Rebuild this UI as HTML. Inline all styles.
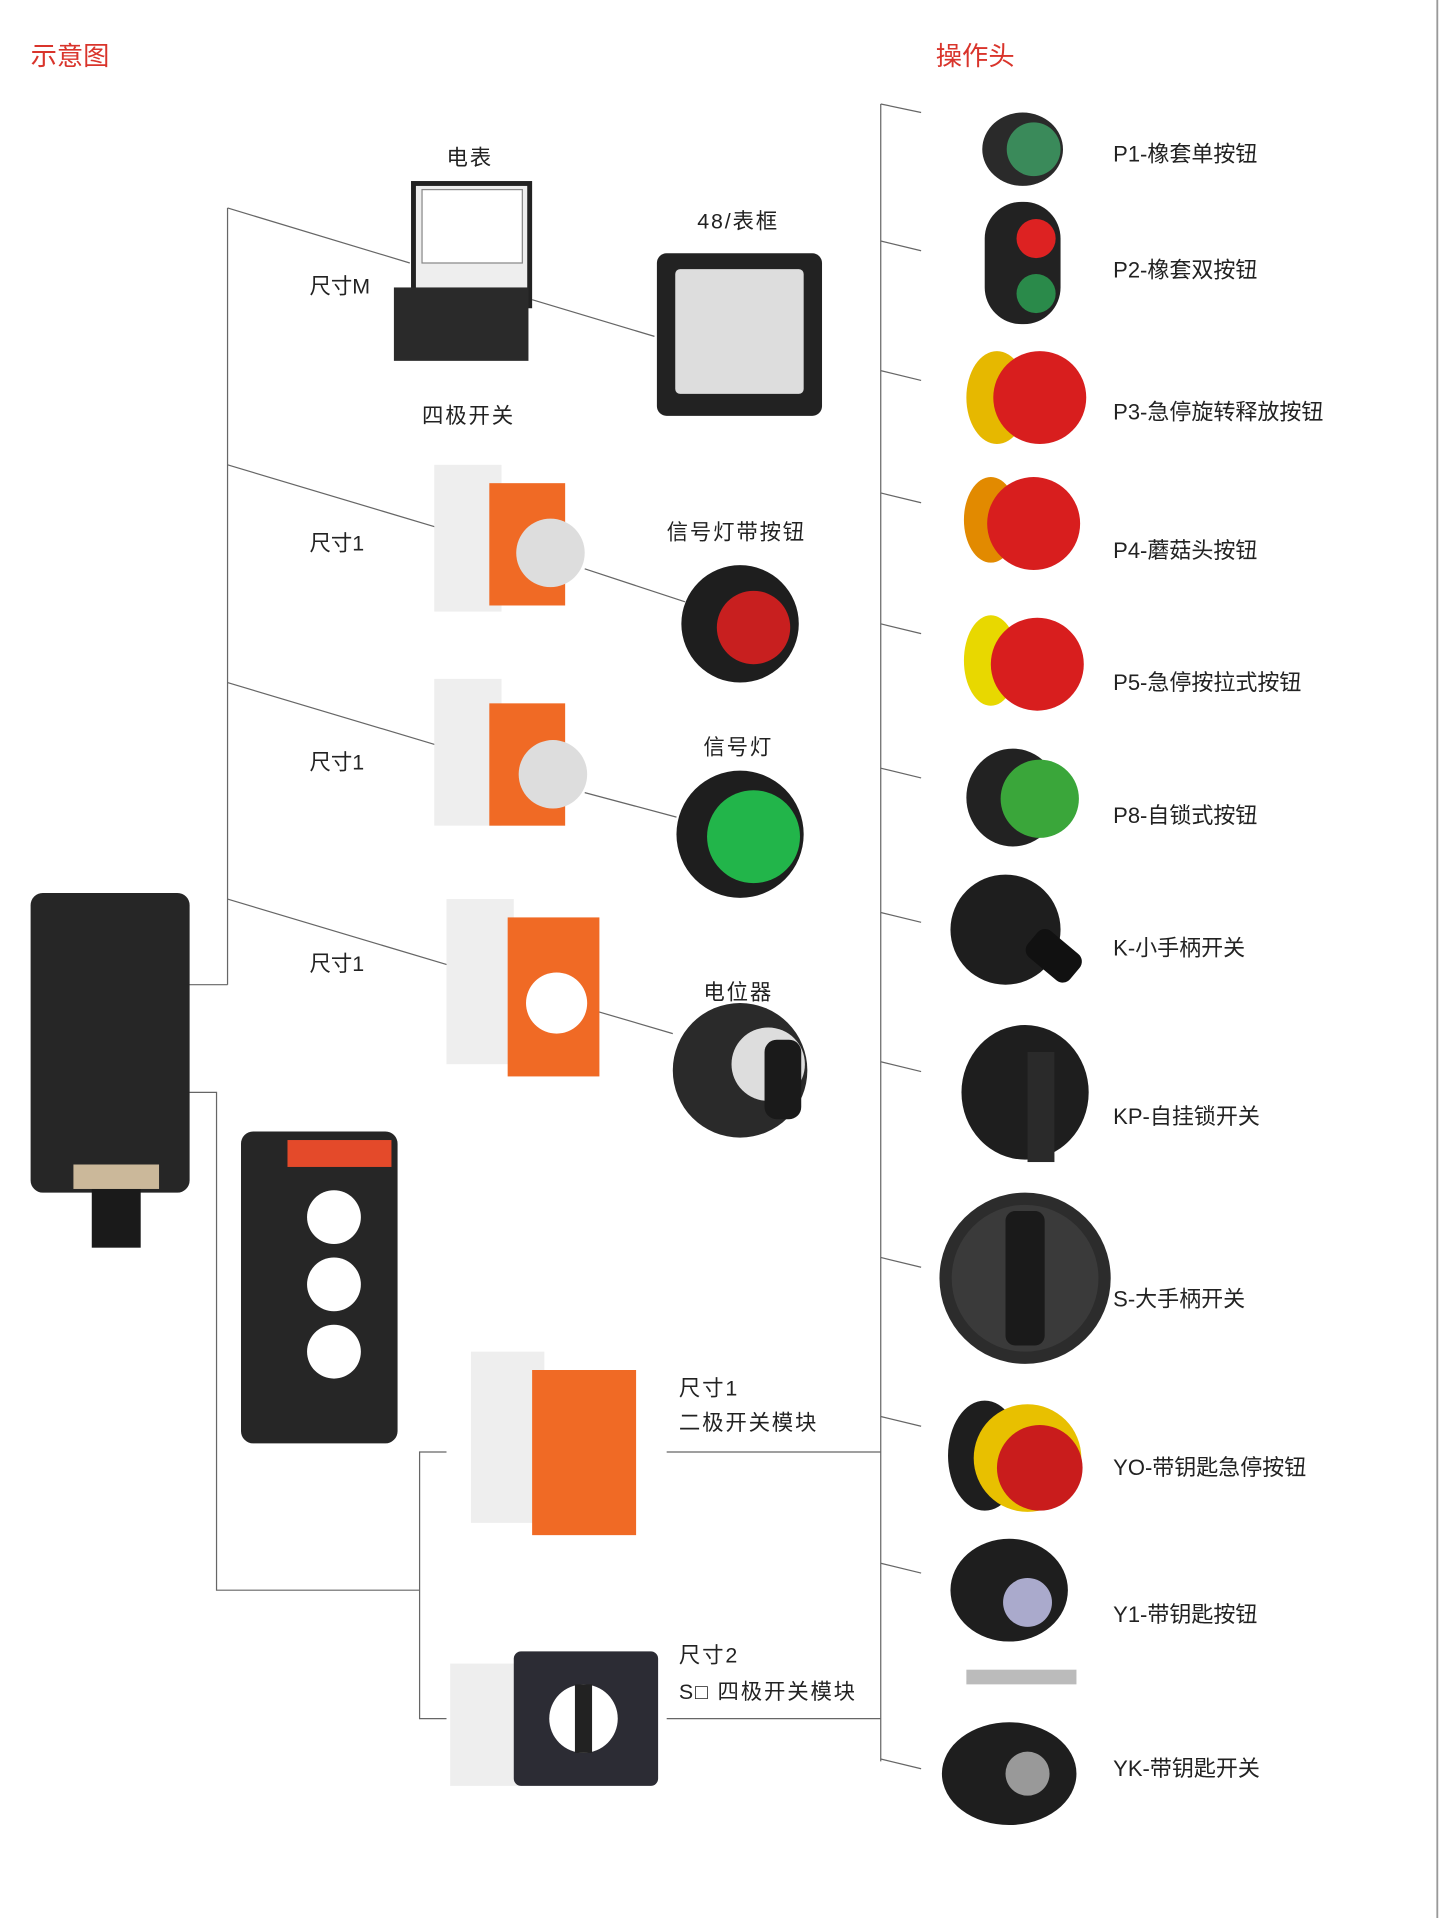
<!DOCTYPE html>
<html><head><meta charset="utf-8"><style>
html,body{margin:0;padding:0;background:#fff;}
svg{display:block}
text{font-family:"Liberation Sans","Noto Sans CJK SC",sans-serif;}
</style></head><body>
<svg width="1441" height="1918" viewBox="0 0 1178 1568" xmlns="http://www.w3.org/2000/svg">
<rect width="1178" height="1568" fill="#fff"/>
<line x1="1175" y1="0" x2="1175" y2="1568" stroke="#999" stroke-width="1.5"/>
<text x="25" y="53" font-size="21.5" fill="#d9342b">示意图</text>
<text x="765" y="53" font-size="21.5" fill="#d9342b">操作头</text>
<g stroke="#666" stroke-width="1" fill="none">
<line x1="720" y1="85" x2="720" y2="1440"/>
<line x1="720" y1="85" x2="753" y2="92"/>
<line x1="720" y1="197" x2="753" y2="205"/>
<line x1="720" y1="303" x2="753" y2="311"/>
<line x1="720" y1="403" x2="753" y2="411"/>
<line x1="720" y1="510" x2="753" y2="518"/>
<line x1="720" y1="628" x2="753" y2="636"/>
<line x1="720" y1="746" x2="753" y2="754"/>
<line x1="720" y1="868" x2="753" y2="876"/>
<line x1="720" y1="1028" x2="753" y2="1036"/>
<line x1="720" y1="1158" x2="753" y2="1166"/>
<line x1="720" y1="1278" x2="753" y2="1286"/>
<line x1="720" y1="1438" x2="753" y2="1446"/>
<line x1="186" y1="170" x2="186" y2="805"/>
<line x1="90" y1="805" x2="186" y2="805"/>
<line x1="186" y1="170" x2="335" y2="215"/>
<line x1="186" y1="380" x2="360" y2="432"/>
<line x1="186" y1="558" x2="360" y2="610"/>
<line x1="186" y1="735" x2="370" y2="790"/>
<polyline points="90,893 177,893 177,1300 343,1300"/>
<polyline points="365,1187 343,1187 343,1405 365,1405"/>
<line x1="545" y1="1187" x2="720" y2="1187"/>
<line x1="545" y1="1405" x2="720" y2="1405"/>
<line x1="435" y1="245" x2="535" y2="275"/>
<line x1="478" y1="465" x2="560" y2="492"/>
<line x1="478" y1="648" x2="553" y2="668"/>
<line x1="482" y1="825" x2="550" y2="845"/>
</g>
<g font-size="18" fill="#222">
<text x="910" y="132">P1-橡套单按钮</text>
<text x="910" y="227">P2-橡套双按钮</text>
<text x="910" y="343">P3-急停旋转释放按钮</text>
<text x="910" y="456">P4-蘑菇头按钮</text>
<text x="910" y="564">P5-急停按拉式按钮</text>
<text x="910" y="673">P8-自锁式按钮</text>
<text x="910" y="781">K-小手柄开关</text>
<text x="910" y="919">KP-自挂锁开关</text>
<text x="910" y="1068">S-大手柄开关</text>
<text x="910" y="1206">YO-带钥匙急停按钮</text>
<text x="910" y="1326">Y1-带钥匙按钮</text>
<text x="910" y="1452">YK-带钥匙开关</text>
</g>
<g font-size="17.5" fill="#222" letter-spacing="1.5">
<text x="365" y="135">电表</text>
<text x="253" y="240" letter-spacing="0">尺寸M</text>
<text x="570" y="187">48/表框</text>
<text x="345" y="346">四极开关</text>
<text x="253" y="450" letter-spacing="0">尺寸1</text>
<text x="545" y="441">信号灯带按钮</text>
<text x="253" y="629" letter-spacing="0">尺寸1</text>
<text x="575" y="617">信号灯</text>
<text x="253" y="794" letter-spacing="0">尺寸1</text>
<text x="575" y="817">电位器</text>
<text x="555" y="1141">尺寸1</text>
<text x="555" y="1169">二极开关模块</text>
<text x="555" y="1359">尺寸2</text>
<text x="555" y="1389">S□ 四极开关模块</text>
</g>
<g>
<ellipse cx="836" cy="122" rx="33" ry="30" fill="#2a2a2a"/><circle cx="845" cy="122" r="22" fill="#3a8a5a"/>
<rect x="805" y="165" width="62" height="100" rx="30" fill="#222"/><circle cx="847" cy="195" r="16" fill="#d22"/><circle cx="847" cy="240" r="16" fill="#2a8a4a"/>
<ellipse cx="815" cy="325" rx="25" ry="38" fill="#e6b800"/><circle cx="850" cy="325" r="38" fill="#d81e1e"/>
<ellipse cx="810" cy="425" rx="22" ry="35" fill="#e28a00"/><circle cx="845" cy="428" r="38" fill="#d81e1e"/>
<ellipse cx="810" cy="540" rx="22" ry="37" fill="#e8d800"/><circle cx="848" cy="543" r="38" fill="#d81e1e"/>
<ellipse cx="828" cy="652" rx="38" ry="40" fill="#222"/><circle cx="850" cy="653" r="32" fill="#3aa63a"/>
<ellipse cx="822" cy="760" rx="45" ry="45" fill="#1e1e1e"/><rect x="850" y="755" width="45" height="28" rx="8" fill="#111" transform="rotate(40 850 760)"/>
<ellipse cx="838" cy="893" rx="52" ry="55" fill="#1e1e1e"/><rect x="840" y="860" width="22" height="90" fill="#2a2a2a"/>
<circle cx="838" cy="1045" r="70" fill="#2c2c2c"/><circle cx="838" cy="1045" r="60" fill="#3a3a3a"/><rect x="822" y="990" width="32" height="110" rx="8" fill="#1a1a1a"/>
<ellipse cx="805" cy="1190" rx="30" ry="45" fill="#1e1e1e"/><circle cx="840" cy="1192" r="44" fill="#e8c000"/><circle cx="850" cy="1200" r="35" fill="#c91c1c"/>
<ellipse cx="825" cy="1300" rx="48" ry="42" fill="#1e1e1e"/><circle cx="840" cy="1310" r="20" fill="#aac"/><rect x="790" y="1365" width="90" height="12" fill="#bbb"/>
<ellipse cx="825" cy="1450" rx="55" ry="42" fill="#1e1e1e"/><circle cx="840" cy="1450" r="18" fill="#999"/>
</g>
<g>
<rect x="25" y="730" width="130" height="245" rx="10" fill="#262626"/>
<rect x="75" y="970" width="40" height="50" fill="#1a1a1a"/>
<rect x="60" y="952" width="70" height="20" fill="#cbb89a"/>
<rect x="197" y="925" width="128" height="255" rx="10" fill="#262626"/>
<rect x="235" y="932" width="85" height="22" fill="#e44a2a"/>
<circle cx="273" cy="995" r="22" fill="#fff"/><circle cx="273" cy="1050" r="22" fill="#fff"/><circle cx="273" cy="1105" r="22" fill="#fff"/>
<rect x="338" y="150" width="95" height="100" fill="#eee" stroke="#222" stroke-width="4"/>
<rect x="345" y="155" width="82" height="60" fill="#fff" stroke="#888"/>
<rect x="322" y="235" width="110" height="60" fill="#2a2a2a"/>
<rect x="537" y="207" width="135" height="133" rx="8" fill="#222"/>
<rect x="552" y="220" width="105" height="102" rx="4" fill="#ddd"/>
<rect x="355" y="380" width="55" height="120" fill="#eee"/><rect x="400" y="395" width="62" height="100" fill="#f06a25"/><circle cx="450" cy="452" r="28" fill="#ddd"/>
<circle cx="605" cy="510" r="48" fill="#1e1e1e"/><circle cx="616" cy="513" r="30" fill="#c81f1f"/>
<rect x="355" y="555" width="55" height="120" fill="#eee"/><rect x="400" y="575" width="62" height="100" fill="#f06a25"/><circle cx="452" cy="633" r="28" fill="#ddd"/>
<circle cx="605" cy="682" r="52" fill="#1e1e1e"/><circle cx="616" cy="684" r="38" fill="#22b54a"/>
<rect x="365" y="735" width="55" height="135" fill="#eee"/><rect x="415" y="750" width="75" height="130" fill="#f06a25"/><circle cx="455" cy="820" r="25" fill="#fff"/>
<circle cx="605" cy="875" r="55" fill="#2a2a2a"/><circle cx="628" cy="870" r="30" fill="#ddd"/><rect x="625" y="850" width="30" height="65" rx="10" fill="#1a1a1a"/>
<rect x="385" y="1105" width="60" height="140" fill="#eee"/><rect x="435" y="1120" width="85" height="135" fill="#f06a25"/>
<rect x="368" y="1360" width="60" height="100" fill="#eee"/><rect x="420" y="1350" width="118" height="110" rx="6" fill="#2c2c34"/><circle cx="477" cy="1405" r="28" fill="#fff"/><rect x="470" y="1377" width="14" height="56" fill="#222"/>
</g>
</svg>
</body></html>
